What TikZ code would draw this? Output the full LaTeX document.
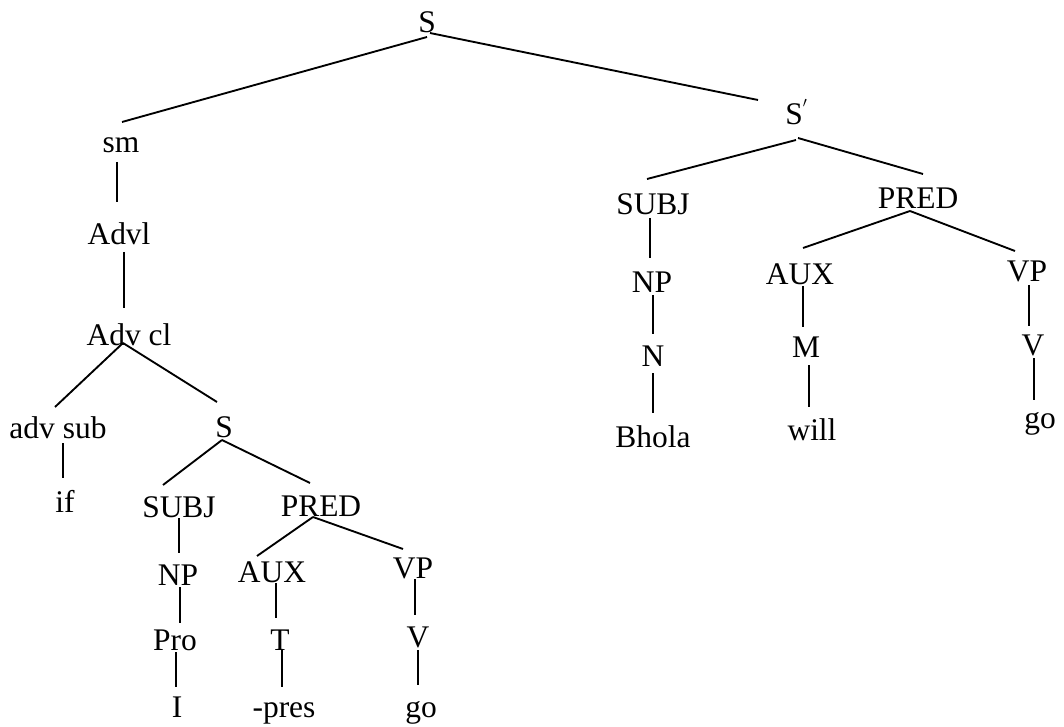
\documentclass[tikz,border=0pt]{standalone}
\usepackage{fontspec}
\setmainfont{Liberation Serif}
\usetikzlibrary{calc}
\tikzset{
  lbl/.style={anchor=base, inner sep=0pt, outer sep=0pt, font=\fontsize{23.6}{28}\selectfont},
  branch/.style={draw=black, line width=1.4pt}
}
\newcommand\lnk[6]{\draw[branch] ($(#1.base)+(#2,#3)$) -- ($(#4.base)+(#5,#6)$);}
\begin{document}
\begin{tikzpicture}[x=0.75pt, y=-0.75pt]
\useasboundingbox (0,0) rectangle (1064,727);
% nodes
\node[lbl] (top) at (427,33) {S};
\node[lbl] (s2) at (794,125) {S\rlap{\raisebox{0.75ex}{\fontsize{15}{17}\selectfont$'$}}};
\node[lbl] (subjR) at (653,215) {SUBJ};
\node[lbl] (npR) at (652,293) {NP};
\node[lbl] (nR) at (653,367) {N};
\node[lbl] (bhola) at (653,447) {Bhola};
\node[lbl] (predR) at (918,209) {PRED};
\node[lbl] (auxR) at (800,285) {AUX};
\node[lbl] (mR) at (806,358) {M};
\node[lbl] (will) at (812,440) {will};
\node[lbl] (vpR) at (1027,282) {VP};
\node[lbl] (vR) at (1033,355) {V};
\node[lbl] (goR) at (1040,428) {go};
\node[lbl] (sm) at (121,153) {sm};
\node[lbl] (advl) at (119,245) {Advl};
\node[lbl] (advcl) at (129,345) {Adv cl};
\node[lbl] (advsub) at (58,438) {adv sub};
\node[lbl] (if) at (65,512) {if};
\node[lbl] (sL) at (224,437) {S};
\node[lbl] (subjL) at (179,517) {SUBJ};
\node[lbl] (npL) at (178,585) {NP};
\node[lbl] (pro) at (175,650) {Pro};
\node[lbl] (i) at (177,717) {I};
\node[lbl] (predL) at (321,516) {PRED};
\node[lbl] (auxL) at (272,582) {AUX};
\node[lbl] (t) at (280,650) {T};
\node[lbl] (pres) at (284,717) {-pres};
\node[lbl] (vpL) at (413,578) {VP};
\node[lbl] (vL) at (418,647) {V};
\node[lbl] (goL) at (421,717) {go};
% branches
\lnk{top}{0}{4}{sm}{1}{-31}
\lnk{top}{3}{0}{s2}{-36}{-25}
\lnk{s2}{2}{15}{subjR}{-6}{-36}
\lnk{s2}{4}{13}{predR}{5}{-35}
\lnk{subjR}{-3}{3}{npR}{-2}{-35}
\lnk{npR}{1}{2}{nR}{0}{-33}
\lnk{nR}{0}{6}{bhola}{0}{-34}
\lnk{predR}{-8}{2}{auxR}{3}{-37}
\lnk{predR}{-8}{2}{vpR}{-12}{-31}
\lnk{auxR}{3}{1}{mR}{-3}{-31}
\lnk{mR}{3}{7}{will}{-3}{-33}
\lnk{vpR}{2}{3}{vR}{-4}{-29}
\lnk{vR}{1}{3}{goR}{-6}{-28}
\lnk{sm}{-4}{9}{advl}{-2}{-43}
\lnk{advl}{5}{7}{advcl}{-5}{-37}
\lnk{advcl}{-6}{-2}{advsub}{-3}{-31}
\lnk{advcl}{-6}{-2}{sL}{-7}{-35}
\lnk{advsub}{5}{5}{if}{-2}{-34}
\lnk{sL}{-2}{3}{subjL}{-16}{-32}
\lnk{sL}{-2}{3}{predL}{-11}{-33}
\lnk{subjL}{0}{1}{npL}{1}{-32}
\lnk{npL}{2}{2}{pro}{5}{-27}
\lnk{pro}{1}{2}{i}{-1}{-30}
\lnk{predL}{-8}{1}{auxL}{-15}{-26}
\lnk{predL}{-8}{1}{vpL}{-10}{-29}
\lnk{auxL}{4}{1}{t}{-4}{-32}
\lnk{t}{2}{0}{pres}{-2}{-30}
\lnk{vpL}{2}{1}{vL}{-3}{-32}
\lnk{vL}{0}{3}{goL}{-3}{-32}
\end{tikzpicture}
\end{document}
